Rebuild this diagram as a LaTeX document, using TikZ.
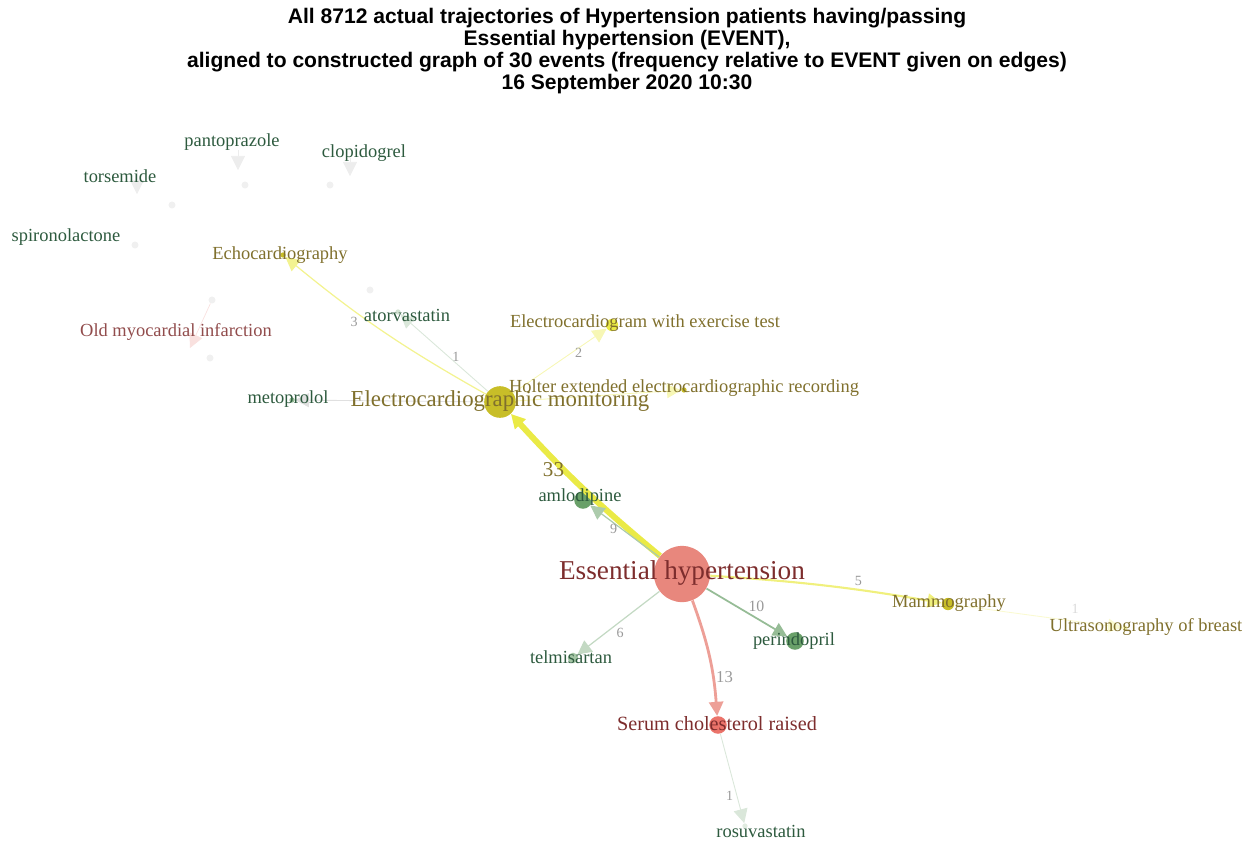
\documentclass[tikz,border=0pt]{standalone}
\usepackage{fontspec}
\setmainfont{Liberation Serif}
\newfontfamily\titlefont{Liberation Sans}
\usetikzlibrary{arrows.meta, positioning}
\definecolor{redtxt}{RGB}{125,45,45}
\definecolor{greentxt}{RGB}{45,90,62}
\definecolor{olivetxt}{RGB}{128,112,45}
\definecolor{salmon}{RGB}{232,135,125}
\definecolor{yel}{RGB}{234,234,70}
\definecolor{olivedot}{RGB}{200,190,40}
\definecolor{greendot}{RGB}{105,160,105}
\begin{document}
\begin{tikzpicture}[
        x=0.02cm, y=-0.02cm,
        lbl/.style={font=\fontsize{10.5}{12}\selectfont, inner sep=0pt},
        drug/.style={lbl, text=greentxt},
        proc/.style={lbl, text=olivetxt},
        diag/.style={lbl, text=redtxt},
        dot/.style={circle, inner sep=0pt, minimum size=#1},
        edge/.style={-{Triangle[width=8pt,length=8pt]}},
        num/.style={font=\fontsize{8}{9}\selectfont, text=black!40, inner sep=1pt}
    ]
        \useasboundingbox (0,0) rectangle (1255,843);
        % title
        \node[font=\titlefont\bfseries\fontsize{12}{12.5}\selectfont, align=center] (title) at (627,51)
            {All 8712 actual trajectories of Hypertension patients having/passing\\
             Essential hypertension (EVENT),\\
             aligned to constructed graph of 30 events (frequency relative to EVENT given on edges)\\
             16 September 2020 10:30};

        % dots
        \node[dot=32pt, fill=salmon] (eh) at (682,574) {};
        \node[dot=18pt, fill=olivedot] (ecgm) at (500,402) {};
        \node[dot=10pt, fill=greendot] (amlo) at (583,500) {};
        \node[dot=10pt, fill=greendot] (peri) at (795,641) {};
        \node[dot=6pt, fill=greendot!60] (telm) at (573,658) {};
        \node[dot=10pt, fill=salmon!85!red] (chol) at (718,725) {};
        \node[dot=7pt, fill=olivedot] (mamm) at (948,604) {};
        \node[dot=7pt, fill=yel] (exer) at (612,325) {};
        \node[dot=3pt, fill=olivedot] (holt) at (684,390) {};
        \node[dot=3pt, fill=olivedot] (echo) at (283,255) {};
        \node[dot=3pt, fill=greendot!70] (meto) at (292,400) {};
        \node[dot=3pt, fill=greendot!30] (ator) at (398,312) {};
        \node[dot=3pt, fill=yel!40] (ultr) at (1125,628) {};
        \node[dot=3pt, fill=greendot!20] (rosu) at (745,826) {};
        % faint background events
        \node[dot=4pt, fill=black!6] (f1) at (172,205) {};
        \node[dot=4pt, fill=black!6] (f2) at (245,185) {};
        \node[dot=4pt, fill=black!6] (f3) at (330,185) {};
        \node[dot=4pt, fill=black!6] (f4) at (135,245) {};
        \node[dot=4pt, fill=black!6] (f5) at (212,300) {};
        \node[dot=4pt, fill=black!6] (f6) at (210,358) {};
        \node[dot=4pt, fill=black!6] (f7) at (370,290) {};
        \coordinate (torsa) at (137,170);
        \coordinate (torsb) at (137,194);
        \coordinate (panta) at (238,150);
        \coordinate (pantb) at (238,170);
        \coordinate (clopa) at (350,158);
        \coordinate (clopb) at (350,176);
        \coordinate (omi) at (190,348);

        % edges
        \draw[edge, yel, line width=3.4pt, bend left=4] (eh) to node[num, pos=0.64, left=-3pt, font=\fontsize{12}{13}\selectfont, text=olivetxt] {33} (ecgm);
        \draw[edge, greendot!55, line width=0.7pt] (eh) to node[num, pos=0.55, left=1pt] {9} (amlo);
        \draw[edge, yel!70, line width=1.2pt, bend left=3] (eh) to node[num, pos=0.65, above=1pt] {5} (mamm);
        \draw[edge, greendot!70, line width=1pt] (eh) to node[num, pos=0.62, above=2pt, font=\fontsize{9}{10}\selectfont] {10} (peri);
        \draw[edge, greendot!40, line width=0.7pt] (eh) to node[num, pos=0.55, below right=0pt] {6} (telm);
        \draw[edge, salmon!80, line width=1.6pt, bend left=8] (eh) to node[num, pos=0.68, right=0pt, font=\fontsize{9.5}{10}\selectfont] {13} (chol);
        \draw[edge, yel!60, line width=0.7pt, bend left=5] (ecgm) to node[num, pos=0.62, below left=0pt] {3} (echo);
        \draw[edge, yel!40, line width=0.5pt] (ecgm) to node[num, pos=0.62, right=1pt] {2} (exer);
        \draw[edge, yel!40, line width=0.5pt] (ecgm) to (holt);
        \draw[edge, greendot!25, line width=0.5pt] (ecgm) to node[num, pos=0.45, right=1pt] {1} (ator);
        \draw[edge, black!12, line width=0.5pt] (ecgm) to (meto);
        \draw[edge, yel!25, line width=0.5pt] (mamm) to node[num, pos=0.72, above=3pt, text=black!15] {1} (ultr);
        \draw[edge, greendot!25, line width=0.5pt] (chol) to node[num, pos=0.7, left=1pt] {1} (rosu);
        \draw[edge, black!7, line width=0.4pt] (torsa) to (torsb);
        \draw[edge, black!7, line width=0.4pt] (panta) to (pantb);
        \draw[edge, black!7, line width=0.4pt] (clopa) to (clopb);
        \draw[edge, salmon!25, line width=0.4pt] (f5) to (omi);

        % labels
        \node[diag, font=\fontsize{15.5}{17}\selectfont] (ehl) at (682,573) {Essential hypertension};
        \node[proc, font=\fontsize{13}{15}\selectfont] (ecgml) at (500,401) {Electrocardiographic monitoring};
        \node[proc] (holtl) at (684,388) {Holter extended electrocardiographic recording};
        \node[proc] (exerl) at (645,323) {Electrocardiogram with exercise test};
        \node[proc] (echol) at (280,255) {Echocardiography};
        \node[proc] (mamml) at (949,603) {Mammography};
        \node[proc] (ultrl) at (1146,627) {Ultrasonography of breast};
        \node[drug] (atorl) at (407,315) {atorvastatin};
        \node[drug] (metol) at (288,399) {metoprolol};
        \node[drug] (amlol) at (580,497) {amlodipine};
        \node[drug] (peril) at (794,641) {perindopril};
        \node[drug] (telml) at (571,657) {telmisartan};
        \node[drug] (rosul) at (761,831) {rosuvastatin};
        \node[drug] (spirl) at (66,237) {spironolactone};
        \node[drug] (torsl) at (120,176) {torsemide};
        \node[drug] (pantl) at (232,142) {pantoprazole};
        \node[drug] (clopl) at (364,153) {clopidogrel};
        \node[diag, font=\fontsize{11.5}{13}\selectfont] (chols) at (717,724) {Serum cholesterol raised};
        \node[diag, text=redtxt!85] (omil) at (176,332) {Old myocardial infarction};
\end{tikzpicture}
\end{document}
